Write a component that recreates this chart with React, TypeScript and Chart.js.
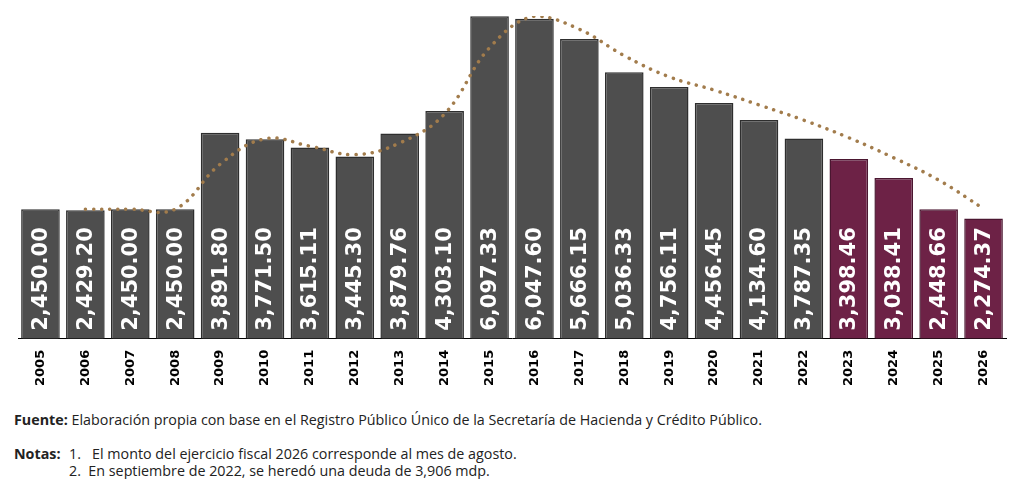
import React, { useEffect, useRef } from "react";
import { Chart, registerables } from "chart.js";
Chart.register(...registerables);

const years = ["2005","2006","2007","2008","2009","2010","2011","2012","2013","2014","2015","2016","2017","2018","2019","2020","2021","2022","2023","2024","2025","2026"];
const debt = [2450.0,2429.2,2450.0,2450.0,3891.8,3771.5,3615.11,3445.3,3879.76,4303.1,6097.33,6047.6,5666.15,5036.33,4756.11,4456.45,4134.6,3787.35,3398.46,3038.41,2448.66,2274.37];
const trend = [null,2450,2450,2450,3300,3780,3640,3480,3700,4250,5500,6097,5850,5350,4950,4700,4420,4130,3800,3420,3000,2460];
const labels = ["2,450.00","2,429.20","2,450.00","2,450.00","3,891.80","3,771.50","3,615.11","3,445.30","3,879.76","4,303.10","6,097.33","6,047.60","5,666.15","5,036.33","4,756.11","4,456.45","4,134.60","3,787.35","3,398.46","3,038.41","2,448.66","2,274.37"];

const GRAY = "#4e4e4e";
const MAROON = "#6d2246";

const valueLabels = {
  id: "valueLabels",
  afterDatasetsDraw(chart: any) {
    const meta = chart.getDatasetMeta(1);
    const ctx = chart.ctx;
    ctx.save();
    ctx.fillStyle = "#ffffff";
    ctx.font = "bold 21px 'DejaVu Sans'";
    ctx.textAlign = "left";
    ctx.textBaseline = "middle";
    meta.data.forEach((bar: any, i: number) => {
      ctx.save();
      ctx.translate(bar.x, bar.base - 8);
      ctx.rotate(-Math.PI / 2);
      ctx.fillText(labels[i], 0, 1);
      ctx.restore();
    });
    ctx.restore();
  },
};

export default function App() {
  const ref = useRef<HTMLCanvasElement>(null);
  useEffect(() => {
    const chart = new Chart(ref.current!, {
      type: "bar",
      data: {
        labels: years,
        datasets: [
          {
            type: "line",
            data: trend as any,
            borderColor: "#a27c4c",
            borderWidth: 3.5,
            borderDash: [0.1, 8],
            borderCapStyle: "round",
            pointRadius: 0,
            tension: 0.4,
            order: 0,
          } as any,
          {
            data: debt,
            backgroundColor: years.map((y) => (+y >= 2023 ? MAROON : GRAY)),
            borderColor: years.map((y) => (+y >= 2023 ? "#4a1630" : "#2e2e2e")),
            borderWidth: 1.5,
            barPercentage: 0.86,
            categoryPercentage: 1,
            order: 1,
          },
        ],
      },
      options: {
        animation: false,
        responsive: false,
        layout: { padding: { top: 8, left: 10, right: 10 } },
        plugins: { legend: { display: false }, tooltip: { enabled: false } },
        scales: {
          y: { display: false, min: 0, max: 6100 },
          x: {
            grid: { display: false },
            border: { display: true, color: "#000", width: 1 },
            ticks: {
              minRotation: 90,
              maxRotation: 90,
              color: "#000",
              font: { family: "'DejaVu Sans'", weight: "bold", size: 13 },
            },
          },
        },
      },
      plugins: [valueLabels],
    });
    return () => chart.destroy();
  }, []);
  const txt: React.CSSProperties = { fontFamily: "'Open Sans', sans-serif", fontSize: 14.3, color: "#222", lineHeight: "17px" };
  return (
    <div style={{ width: 1008 }}>
      <canvas ref={ref} width={1008} height={381} style={{ display: "block" }} />
      <div style={{ ...txt, marginLeft: 6, marginTop: 22 }}>
        <b>Fuente:</b> Elaboración propia con base en el Registro Público Único de la Secretaría de Hacienda y Crédito Público.
      </div>
      <div style={{ ...txt, marginLeft: 6, marginTop: 17, display: "flex" }}>
        <b style={{ width: 55 }}>Notas:</b>
        <div>
          <div>1.&nbsp;&nbsp;&nbsp;El monto del ejercicio fiscal 2026 corresponde al mes de agosto.</div>
          <div>2.&nbsp;&nbsp;En septiembre de 2022, se heredó una deuda de 3,906 mdp.</div>
        </div>
      </div>
    </div>
  );
}
